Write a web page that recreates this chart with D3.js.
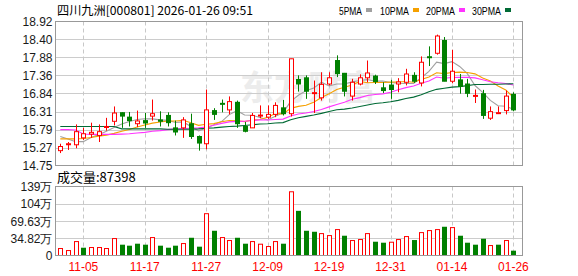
<!DOCTYPE html>
<html><head><meta charset="utf-8">
<script src="https://cdn.jsdelivr.net/npm/d3@7/dist/d3.min.js"></script>
<style>html,body{margin:0;padding:0;background:#fff;}svg{display:block;}</style>
</head><body>
<svg id="c" width="578" height="276"></svg>
<script>
const opens  = [15.18,15.37,15.35,15.55,15.66,15.62,15.86,16.03,16.28,16.15,15.96,16.05,16.18,16.07,16.20,15.84,15.84,15.96,15.59,15.38,16.34,16.55,16.36,16.58,15.88,15.84,16.19,16.15,16.23,16.42,16.25,17.24,17.29,16.84,16.71,17.11,17.79,17.42,16.76,17.11,17.29,17.34,17.00,17.08,17.11,17.16,17.36,17.14,17.90,18.00,18.37,17.19,17.23,17.11,16.77,16.83,16.12,16.26,16.34,16.81];
const highs  = [15.38,15.43,15.94,15.84,15.99,15.94,16.13,16.46,16.29,16.30,16.34,16.27,16.66,16.32,16.29,16.05,16.15,16.25,15.62,16.95,16.41,16.66,16.75,16.63,16.01,16.27,16.49,16.49,16.58,16.65,17.84,17.36,17.36,17.21,17.45,17.45,17.94,17.43,17.26,17.39,17.79,17.38,17.16,17.23,17.28,17.55,17.45,17.91,18.20,18.54,18.47,18.10,17.40,17.26,16.95,16.94,16.46,16.46,16.92,16.87];
const lows   = [15.11,15.20,15.25,15.49,15.55,15.43,15.76,15.91,15.84,15.88,15.86,15.84,16.05,15.88,15.88,15.62,15.55,15.52,15.18,15.22,16.07,16.29,16.23,15.84,15.71,15.84,16.12,16.10,16.15,16.20,16.17,16.89,16.68,16.27,16.63,17.07,17.31,16.75,16.63,17.07,17.16,17.11,16.85,16.68,16.87,17.07,17.14,17.04,17.63,17.96,17.19,17.13,16.83,16.73,16.56,16.10,16.07,16.24,16.23,16.32];
const closes = [15.30,15.38,15.73,15.67,15.71,15.73,15.88,16.27,16.18,16.05,16.04,15.98,16.25,16.03,15.99,15.72,16.07,15.59,15.40,16.36,16.23,16.53,16.60,15.96,15.74,16.20,16.21,16.23,16.49,16.25,17.84,17.11,16.90,16.86,17.10,17.29,17.41,16.90,17.16,17.29,17.43,17.18,16.92,16.95,17.17,17.40,17.19,17.74,17.88,18.50,17.19,17.48,17.04,16.84,16.78,16.20,16.31,16.28,16.76,16.36];
// volume in 万
const volumes = [14.1,10.0,28.1,14.7,16.1,16.1,14.1,34.2,20.8,18.8,22.8,20.8,36.2,18.8,14.7,18.8,24.1,34.8,16.8,84.4,48.9,36.2,30.2,34.8,22.8,28.1,22.8,18.1,28.1,22.8,128.6,89.1,48.9,46.9,44.2,40.2,52.3,38.9,30.2,32.2,44.2,26.8,24.8,26.8,32.2,38.2,30.2,46.2,50.3,52.3,57.0,56.3,38.9,24.8,20.8,32.8,20.1,20.8,30.2,8.74];
const ma5Head  = [15.59,15.52,15.44,15.44];
const ma10Head = [15.52,15.52,15.52,15.53,15.56,15.60,15.63,15.68,15.74];
const ma20Head = [15.79,15.79,15.78,15.66,15.65,15.65,15.65,15.65,15.66,15.67,15.69,15.71,15.74,15.76,15.79,15.81,15.82,15.83,15.84];
const ma30Head = [15.88,15.88,15.88,15.88,15.88,15.88,15.88,15.88,15.81,15.81,15.81,15.81,15.81,15.81,15.80,15.80,15.80,15.80,15.81,15.83,15.84,15.86,15.88,15.89,15.91,15.93,15.95,15.96,15.98];
const dateLabels = ["11-05","11-17","11-27","12-09","12-19","12-31","01-14","01-26"];
const dateIdx = [3,11,19,27,35,43,51,59];
const priceTicks = [18.92,18.40,17.88,17.36,16.84,16.31,15.79,15.27,14.75];
const volTicks = [139.26,104.45,69.63,34.82,0];
const volTickLabels = ["139万","104万","69.63万","34.82万","0"];
const maNames = ["5PMA","10PMA","20PMA","30PMA"];
const maColors = ["#a0a0a0","#f5a000","#ff33ff","#006a35"];
const title = "四川九洲[000801] 2026-01-26 09:51";
const lastVol = "87398";

const RED = "#ff0000", GREEN = "#008000";
const svg = d3.select("#c");
const L = 55.5, R = 522.5, PT = 21.5, PB = 165.5, VT = 186.5, VB = 255.5;
const x = d3.scaleLinear().domain([0, closes.length - 1]).range([60.3, 513.4]);
const y = d3.scaleLinear().domain([14.75, 18.92]).range([PB, PT]);
const yv = d3.scaleLinear().domain([0, 139.26]).range([VB, VT]);

function ma(n, head) {
  return closes.map((c, i) => i < n - 1 ? head[i] : d3.mean(closes.slice(i - n + 1, i + 1)));
}
const mas = [ma(5, ma5Head), ma(10, ma10Head), ma(20, ma20Head), ma(30, ma30Head)];

// title & legend
svg.append("text").attr("x", 57).attr("y", 15).attr("font-family", "'Noto Sans CJK SC', sans-serif")
  .attr("font-size", 12).attr("fill", "#000").attr("textLength", 196).attr("lengthAdjust", "spacingAndGlyphs").text(title);
const legX = [339, 380, 426, 472];
maNames.forEach((n, k) => {
  svg.append("text").attr("x", legX[k]).attr("y", 15).attr("font-family", "'Liberation Sans', sans-serif")
    .attr("font-size", 11).attr("fill", "#000").attr("textLength", n.length * 6 - 1).attr("lengthAdjust", "spacingAndGlyphs").text(n);
  svg.append("rect").attr("x", legX[k] + n.length * 6 + 3).attr("y", 8).attr("width", 6).attr("height", 4).attr("fill", maColors[k]);
});

// watermark
svg.append("text").attr("x", 240).attr("y", 100).attr("font-family", "'Noto Sans CJK SC', sans-serif")
  .attr("font-size", 34).attr("font-weight", "bold").attr("fill", "#ececec").text("东方财富");

// grid price
const g = svg.append("g");
priceTicks.forEach(t => {
  const yy = Math.round(y(t)) + 0.5;
  if (t !== 18.92 && t !== 14.75)
    g.append("line").attr("x1", L).attr("x2", R).attr("y1", yy).attr("y2", yy).attr("stroke", "#cccccc");
  g.append("text").attr("x", 52.5).attr("y", y(t) + 4.5).attr("text-anchor", "end")
    .attr("font-family", "'Liberation Sans', Arial, sans-serif").attr("font-size", 12).attr("fill", "#1a1a1a").text(t.toFixed(2));
});
volTicks.forEach((t, k) => {
  const yy = Math.round(yv(t)) + 0.5;
  if (k > 0 && k < volTicks.length - 1)
    g.append("line").attr("x1", L).attr("x2", R).attr("y1", yy).attr("y2", yy).attr("stroke", "#cccccc");
  g.append("text").attr("x", 52.5).attr("y", yv(t) + 4.5).attr("text-anchor", "end")
    .attr("font-family", "'Liberation Sans', Arial, sans-serif").attr("font-size", 12).attr("fill", "#1a1a1a").text(volTickLabels[k]);
});
dateIdx.forEach((di, k) => {
  const xx = Math.round(x(di)) + 0.5;
  [[PT, PB], [VT, VB]].forEach(([a, b]) =>
    g.append("line").attr("x1", xx).attr("x2", xx).attr("y1", a).attr("y2", b)
      .attr("stroke", "#c8c8c8").attr("stroke-dasharray", "4,3"));
  g.append("text").attr("x", x(di)).attr("y", 271).attr("text-anchor", "middle")
    .attr("font-family", "'Liberation Sans', sans-serif").attr("font-size", 12).attr("fill", RED).text(dateLabels[k]);
});

// volume caption
svg.append("text").attr("x", 57).attr("y", 182).attr("font-family", "'Noto Sans CJK SC', sans-serif")
  .attr("font-size", 13).attr("fill", "#000").text("成交量:" + lastVol);

// MA lines
mas.forEach((m, k) => {
  svg.append("path").datum(m).attr("fill", "none").attr("stroke", maColors[k]).attr("stroke-width", 1.1)
    .attr("d", d3.line().x((d, i) => x(i)).y(d => y(d)));
});

// candles
const cg = svg.append("g");
closes.forEach((c, i) => {
  const o = opens[i], up = c >= o, col = up ? RED : GREEN;
  const cx = Math.round(x(i)) + 0.5;
  cg.append("line").attr("x1", cx).attr("x2", cx).attr("y1", y(highs[i])).attr("y2", y(lows[i])).attr("stroke", col);
  const top = y(Math.max(o, c)), bot = y(Math.min(o, c));
  const h = Math.max(1, bot - top);
  if (up) {
    cg.append("rect").attr("x", cx - 2).attr("y", top).attr("width", 4).attr("height", h)
      .attr("fill", "#fff").attr("stroke", col);
  } else {
    cg.append("rect").attr("x", cx - 2.5).attr("y", top - 0.5).attr("width", 5).attr("height", h + 1).attr("fill", col);
  }
  // volume
  const vup = i === 0 ? up : c >= closes[i - 1];
  const vc = vup ? RED : GREEN;
  const vt = yv(volumes[i]);
  if (vup) {
    cg.append("rect").attr("x", cx - 2).attr("y", vt).attr("width", 4).attr("height", VB - vt)
      .attr("fill", "#fff").attr("stroke", vc);
  } else {
    cg.append("rect").attr("x", cx - 2.5).attr("y", vt - 0.5).attr("width", 5).attr("height", VB - vt + 0.5).attr("fill", vc);
  }
});

// frames
[[PT, PB], [VT, VB]].forEach(([a, b]) =>
  svg.append("rect").attr("x", L).attr("y", a).attr("width", R - L).attr("height", b - a)
    .attr("fill", "none").attr("stroke", "#999999"));
</script>
</body></html>
